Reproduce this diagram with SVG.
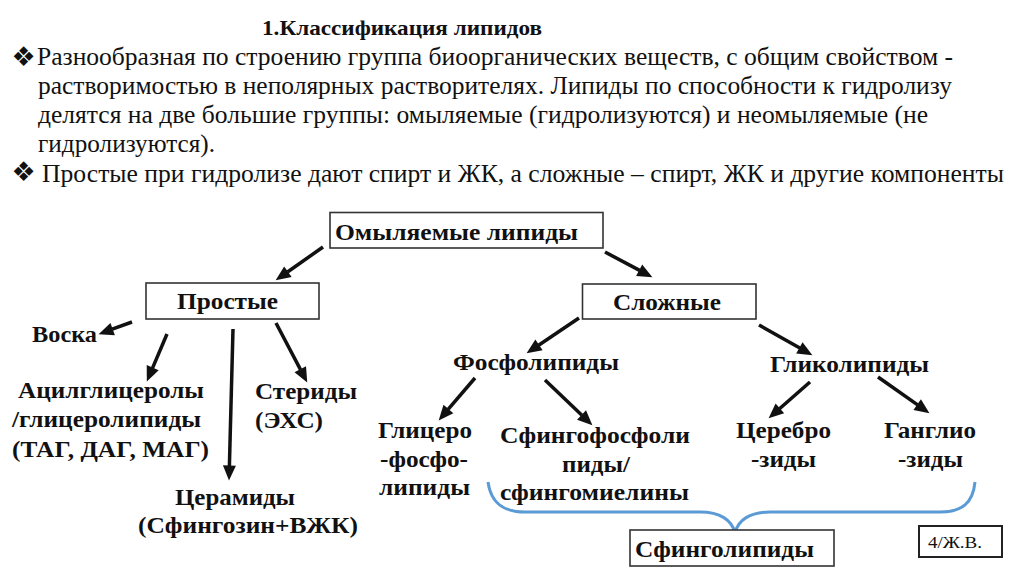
<svg xmlns="http://www.w3.org/2000/svg" width="1024" height="576" viewBox="0 0 1024 576">
<style>
.body{font-family:"Liberation Serif","Times New Roman",serif;font-size:26px;fill:#111}
.title{font-family:"Liberation Serif","Times New Roman",serif;font-size:21px;font-weight:bold;fill:#111}
.bul{font-family:"DejaVu Sans",sans-serif;font-size:27px;fill:#111}
.lb{font-family:"Liberation Serif","Times New Roman",serif;font-size:24px;font-weight:bold;fill:#111;text-anchor:middle}
.pg{font-family:"Liberation Serif","Times New Roman",serif;font-size:17px;fill:#111}
.box{fill:#fff;stroke:#333;stroke-width:1.6}
.arr{stroke:#111;stroke-width:3.5;fill:none;marker-end:url(#ah)}
.brace{stroke:#5b9bd5;stroke-width:3;fill:none}
</style>
<defs>
<marker id="ah" markerUnits="userSpaceOnUse" markerWidth="15" markerHeight="13" viewBox="0 0 15 13" refX="0.5" refY="6.5" orient="auto" overflow="visible">
<path d="M0,0 L15,6.5 L0,13 z" fill="#111"/>
</marker>
</defs>
<rect width="1024" height="576" fill="#fff"/>
<g id="header">
<text class="title" x="262" y="35" textLength="280" lengthAdjust="spacingAndGlyphs">1.Классификация липидов</text>
<text class="bul" x="23.5" y="66" text-anchor="middle">❖</text>
<text class="body" x="37" y="65" textLength="916" lengthAdjust="spacingAndGlyphs">Разнообразная по строению группа биоорганических веществ, с общим свойством -</text>
<text class="body" x="38" y="94" textLength="914" lengthAdjust="spacingAndGlyphs">растворимостью в неполярных растворителях. Липиды по способности к гидролизу</text>
<text class="body" x="38" y="123" textLength="890" lengthAdjust="spacingAndGlyphs">делятся на две большие группы: омыляемые (гидролизуются) и неомыляемые (не</text>
<text class="body" x="38" y="152" textLength="177" lengthAdjust="spacingAndGlyphs">гидролизуются).</text>
<text class="bul" x="23.5" y="181" text-anchor="middle">❖</text>
<text class="body" x="42" y="182" textLength="962" lengthAdjust="spacingAndGlyphs">Простые при гидролизе дают спирт и ЖК, а сложные – спирт, ЖК и другие компоненты</text>
</g>
<g id="connectors">
<line class="arr" x1="323" y1="247" x2="287.5" y2="272"/>
<line class="arr" x1="605" y1="252" x2="639.6" y2="270.4"/>
<line class="arr" x1="132" y1="322" x2="112.2" y2="329.2"/>
<line class="arr" x1="167" y1="334" x2="152.5" y2="368.1"/>
<line class="arr" x1="233" y1="329" x2="229.4" y2="466"/>
<line class="arr" x1="276" y1="323" x2="300.5" y2="369.6"/>
<line class="arr" x1="579" y1="318" x2="538.6" y2="345.2"/>
<line class="arr" x1="759" y1="325" x2="799.8" y2="348.1"/>
<line class="arr" x1="475" y1="378" x2="448.1" y2="409.4"/>
<line class="arr" x1="545" y1="380" x2="581.9" y2="415.3"/>
<line class="arr" x1="810" y1="382" x2="779.5" y2="408.8"/>
<line class="arr" x1="878" y1="377" x2="917.6" y2="404.9"/>
<path class="brace" d="M488,482 C491,503 503,512 525,512 L700,512 C720,512 732,520 735,533 C738,520 750,512 770,512 L940,512 C962,512 973,503 975,482"/>
</g>
<g id="n-omyl">
<rect class="box" x="330" y="212.5" width="273" height="35.5"/>
<text class="lb" x="456.5" y="240" textLength="243" lengthAdjust="spacingAndGlyphs">Омыляемые липиды</text>
</g>
<g id="n-prostye">
<rect class="box" x="146" y="283" width="173" height="36"/>
<text class="lb" x="227.5" y="309" textLength="101" lengthAdjust="spacingAndGlyphs">Простые</text>
</g>
<g id="n-slozhnye">
<rect class="box" x="582.5" y="284" width="173.5" height="35"/>
<text class="lb" x="667" y="310" textLength="108" lengthAdjust="spacingAndGlyphs">Сложные</text>
</g>
<g id="n-voska">
<text class="lb" x="64.5" y="342" textLength="65" lengthAdjust="spacingAndGlyphs">Воска</text>
</g>
<g id="n-acyl">
<text class="lb" x="111" y="398" textLength="186" lengthAdjust="spacingAndGlyphs">Ацилглицеролы</text>
<text class="lb" x="106.5" y="427" textLength="189" lengthAdjust="spacingAndGlyphs">/глицеролипиды</text>
<text class="lb" x="110.5" y="457" textLength="197" lengthAdjust="spacingAndGlyphs">(ТАГ, ДАГ, МАГ)</text>
</g>
<g id="n-steridy">
<text class="lb" x="306" y="399" textLength="102" lengthAdjust="spacingAndGlyphs">Стериды</text>
<text class="lb" x="289" y="428" textLength="68" lengthAdjust="spacingAndGlyphs">(ЭХС)</text>
</g>
<g id="n-ceramidy">
<text class="lb" x="235" y="505" textLength="120" lengthAdjust="spacingAndGlyphs">Церамиды</text>
<text class="lb" x="248" y="533" textLength="220" lengthAdjust="spacingAndGlyphs">(Сфингозин+ВЖК)</text>
</g>
<g id="n-fosfo">
<text class="lb" x="536" y="370" textLength="166" lengthAdjust="spacingAndGlyphs">Фосфолипиды</text>
</g>
<g id="n-gliko">
<text class="lb" x="849.5" y="372" textLength="159" lengthAdjust="spacingAndGlyphs">Гликолипиды</text>
</g>
<g id="n-glicero">
<text class="lb" x="425" y="438" textLength="94" lengthAdjust="spacingAndGlyphs">Глицеро</text>
<text class="lb" x="424" y="467" textLength="88" lengthAdjust="spacingAndGlyphs">-фосфо-</text>
<text class="lb" x="424.5" y="495" textLength="91" lengthAdjust="spacingAndGlyphs">липиды</text>
</g>
<g id="n-sfingofosfo">
<text class="lb" x="595" y="443" textLength="190" lengthAdjust="spacingAndGlyphs">Сфингофосфоли</text>
<text class="lb" x="596" y="472" textLength="68" lengthAdjust="spacingAndGlyphs">пиды/</text>
<text class="lb" x="594.5" y="500" textLength="189" lengthAdjust="spacingAndGlyphs">сфингомиелины</text>
</g>
<g id="n-cerebro">
<text class="lb" x="783.5" y="438" textLength="95" lengthAdjust="spacingAndGlyphs">Церебро</text>
<text class="lb" x="783.5" y="467" textLength="65" lengthAdjust="spacingAndGlyphs">-зиды</text>
</g>
<g id="n-ganglio">
<text class="lb" x="930" y="438" textLength="92" lengthAdjust="spacingAndGlyphs">Ганглио</text>
<text class="lb" x="930.5" y="467" textLength="65" lengthAdjust="spacingAndGlyphs">-зиды</text>
</g>
<g id="n-sfingolipidy">
<rect class="box" x="630" y="530" width="204" height="36"/>
<text class="lb" x="724.5" y="557" textLength="179" lengthAdjust="spacingAndGlyphs">Сфинголипиды</text>
</g>
<g id="n-page">
<rect x="919" y="526" width="83" height="31" fill="#fff" stroke="#222" stroke-width="2"/>
<text class="pg" x="928" y="548" textLength="54" lengthAdjust="spacingAndGlyphs">4/Ж.В.</text>
</g>
</svg>
